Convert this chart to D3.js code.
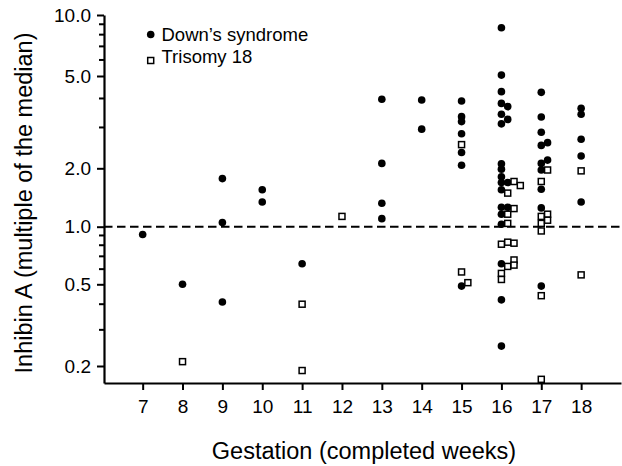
<!DOCTYPE html>
<html>
<head>
<meta charset="utf-8">
<script src="https://cdn.jsdelivr.net/npm/d3@7"></script>
<style>
  body { margin: 0; background: #fff; }
  text { font-family: "Liberation Sans", Arial, Helvetica, sans-serif; fill: #000; }
</style>
</head>
<body>
<div id="chart"></div>
<script>
// Down's syndrome cases: week, inhibin A MoM, side-by-side lane (0 = on the week)
var downsWeek = [7, 8, 9, 9, 9, 10, 10, 11,
  13, 13, 13, 13, 14, 14,
  15, 15, 15, 15, 15, 15, 15,
  16, 16, 16, 16, 16, 16, 16, 16, 16, 16, 16, 16, 16, 16, 16, 16, 16,
  16, 16, 16, 16,
  17, 17, 17, 17, 17, 17, 17, 17, 17, 17, 17,
  18, 18, 18, 18, 18];
var downsValue = [0.91, 0.50, 1.77, 1.05, 0.41, 1.55, 1.34, 0.64,
  3.97, 2.10, 1.32, 1.10, 3.94, 2.95,
  3.90, 3.34, 3.18, 2.82, 2.34, 2.06, 0.49,
  8.65, 5.05, 4.28, 3.81, 3.42, 3.11, 2.09, 1.98, 1.81, 1.69, 1.55, 1.26, 1.16, 1.03, 0.64, 0.42, 0.25,
  3.69, 3.25, 1.69, 1.26,
  4.25, 3.33, 2.86, 2.51, 2.10, 1.96, 1.56, 1.25, 0.49, 2.58, 2.17,
  3.63, 3.42, 2.67, 2.26, 1.34];
var downsLane = [0, 0, 0, 0, 0, 0, 0, 0,
  0, 0, 0, 0, 0, 0,
  0, 0, 0, 0, 0, 0, 0,
  0, 0, 0, 0, 0, 0, 0, 0, 0, 0, 0, 0, 0, 0, 0, 0, 0,
  1, 1, 1, 1,
  0, 0, 0, 0, 0, 0, 0, 0, 0, 1, 1,
  0, 0, 0, 0, 0];

// Trisomy 18 cases
var triWeek = [8, 11, 11, 12,
  15, 15, 15,
  16, 16, 16, 16, 16, 16, 16, 16, 16, 16, 16, 16, 16, 16,
  17, 17, 17, 17, 17, 17, 17, 17, 17,
  18, 18];
var triValue = [0.21, 0.40, 0.19, 1.13,
  2.53, 0.58, 0.51,
  0.81, 0.57, 0.53, 1.49, 1.16, 1.04, 0.83, 0.62, 1.71, 1.24, 0.82, 0.67, 0.63, 1.63,
  1.71, 1.13, 1.04, 0.95, 0.44, 0.172, 1.96, 1.16, 1.08,
  1.94, 0.56];
var triLane = [0, 0, 0, 0,
  0, 0, 1,
  0, 0, 0, 1, 1, 1, 1, 1, 2, 2, 2, 2, 2, 3,
  0, 0, 0, 0, 0, 0, 1, 1, 1,
  0, 0];

var weekTicks = [7, 8, 9, 10, 11, 12, 13, 14, 15, 16, 17, 18];
var majorTicks = [0.2, 0.5, 1, 2, 5, 10];
var minorTicks = [0.3, 0.4, 0.6, 0.7, 0.8, 0.9, 3, 4, 6, 7, 8, 9];
var legendLabels = ["Down\u2019s syndrome", "Trisomy 18"];

var width = 622, height = 466;
var laneStep = 6.3;

var svg = d3.select("#chart").append("svg")
  .attr("width", width)
  .attr("height", height);

var x = d3.scaleLinear().domain([6.03, 19]).range([104, 621]);
// the printed axis is not quite evenly logarithmic, so map each decade piece
var y = d3.scaleLog()
  .domain([0.165, 0.2, 0.5, 1, 2, 5, 10])
  .range([383, 366, 284.3, 226.7, 168.3, 76, 15]);

// reference line at 1.0
svg.append("line")
  .attr("x1", x.range()[0]).attr("x2", x.range()[1])
  .attr("y1", y(1)).attr("y2", y(1))
  .attr("stroke", "#000")
  .attr("stroke-width", 2)
  .attr("stroke-dasharray", "8.5,4.5");

// axes
var xAxis = d3.axisBottom(x).tickValues(weekTicks).tickSize(7).tickSizeOuter(0).tickPadding(10)
  .tickFormat(d3.format("d"));
var gx = svg.append("g").attr("transform", "translate(0," + 383 + ")").call(xAxis);

var yAxis = d3.axisLeft(y).tickValues(majorTicks).tickSize(7).tickSizeOuter(0).tickPadding(6)
  .tickFormat(d3.format(".1f"));
var gy = svg.append("g").attr("transform", "translate(104,0)").call(yAxis);

gy.selectAll(".minor").data(minorTicks).enter().append("line")
  .attr("class", "minor")
  .attr("x1", -5).attr("x2", 0)
  .attr("y1", function(d){ return y(d); })
  .attr("y2", function(d){ return y(d); })
  .attr("stroke", "#000")
  .attr("stroke-width", 2);

[gx, gy].forEach(function(g) {
  g.select(".domain").attr("stroke-width", 2.2);
  g.selectAll(".tick line").attr("stroke-width", 2);
  g.selectAll(".tick text")
    .attr("font-size", 19)
    .attr("font-family", "'Liberation Sans', Arial, sans-serif");
});

// points
var downs = downsWeek.map(function(w, i){ return {week: w, value: downsValue[i], lane: downsLane[i]}; });
var tri = triWeek.map(function(w, i){ return {week: w, value: triValue[i], lane: triLane[i]}; });

svg.append("g").selectAll("circle").data(downs).enter().append("circle")
  .attr("cx", function(d){ return x(d.week) + d.lane * laneStep; })
  .attr("cy", function(d){ return y(d.value); })
  .attr("r", 3.8)
  .attr("fill", "#000");

var sq = 6;
svg.append("g").selectAll("rect").data(tri).enter().append("rect")
  .attr("x", function(d){ return x(d.week) + d.lane * laneStep - sq/2; })
  .attr("y", function(d){ return y(d.value) - sq/2; })
  .attr("width", sq).attr("height", sq)
  .attr("fill", "#fff")
  .attr("stroke", "#000")
  .attr("stroke-width", 1.5);

// legend
var legend = svg.append("g");
legend.append("circle").attr("cx", 150.7).attr("cy", 34.5).attr("r", 3.8).attr("fill", "#000");
legend.append("rect").attr("x", 150.7 - sq/2).attr("y", 60.5 - sq/2).attr("width", sq).attr("height", sq)
  .attr("fill", "#fff").attr("stroke", "#000").attr("stroke-width", 1.5);
legend.selectAll("text").data(legendLabels).enter().append("text")
  .attr("x", 161.5)
  .attr("y", function(d, i){ return 40.7 + i * 22.5; })
  .attr("font-size", 18.5)
  .text(function(d){ return d; });

// axis titles
svg.append("text")
  .attr("x", 364).attr("y", 459)
  .attr("text-anchor", "middle")
  .attr("font-size", 23.5)
  .text("Gestation (completed weeks)");

svg.append("text")
  .attr("transform", "translate(31.5,203) rotate(-90)")
  .attr("text-anchor", "middle")
  .attr("font-size", 23.5)
  .text("Inhibin A (multiple of the median)");
</script>
</body>
</html>
